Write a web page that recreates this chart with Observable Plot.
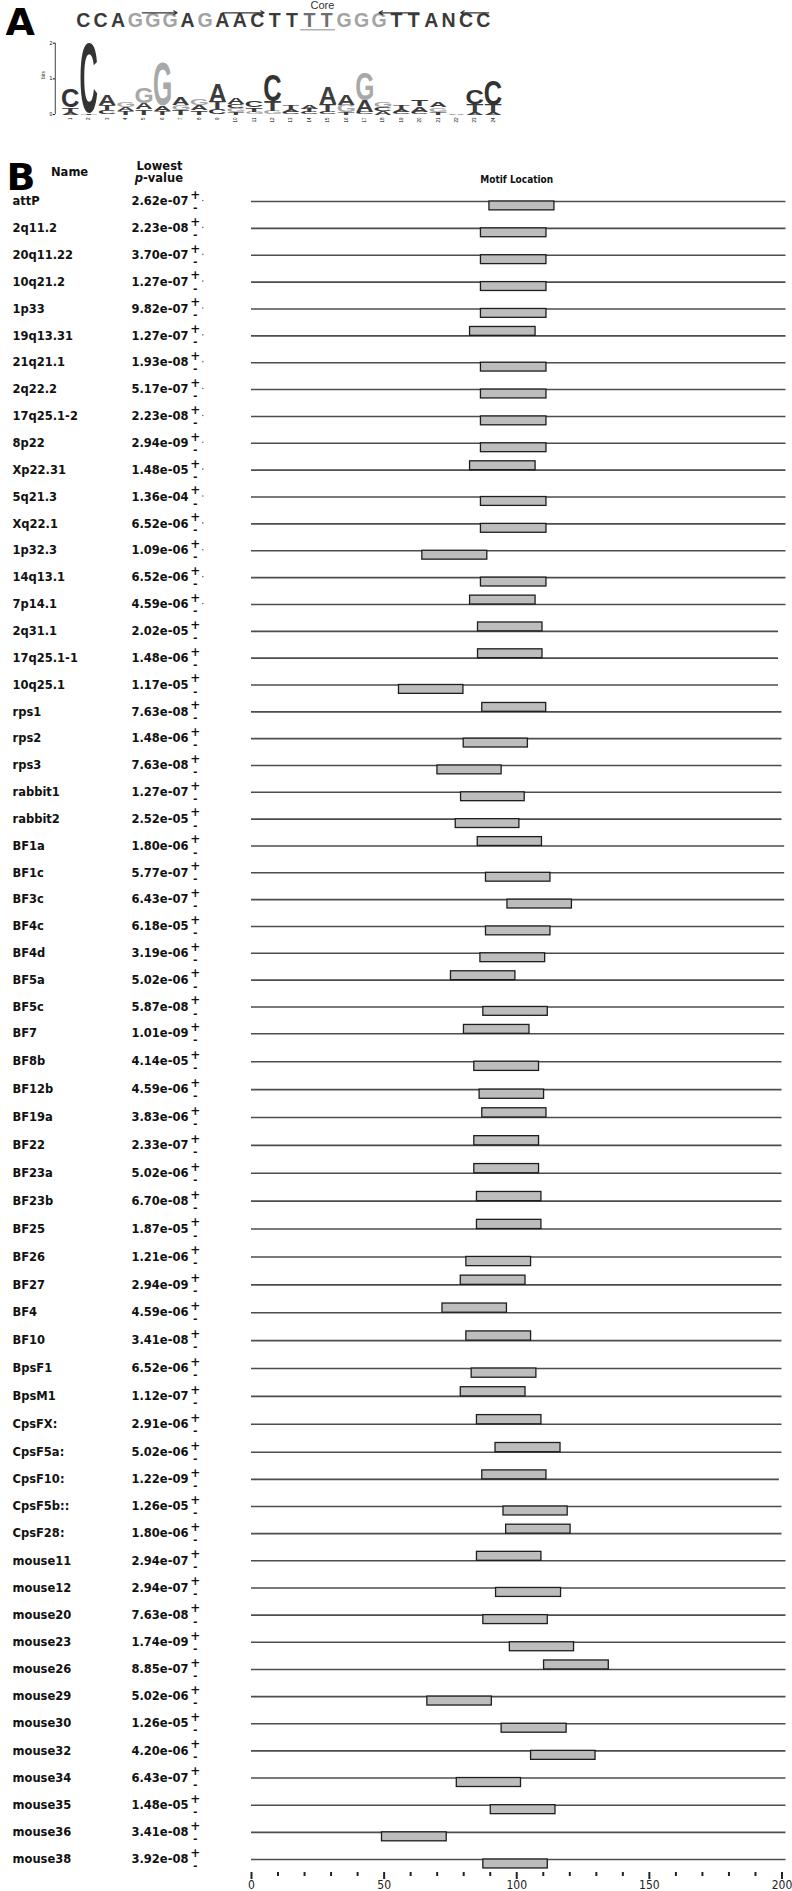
<!DOCTYPE html>
<html>
<head>
<meta charset="utf-8">
<script src="https://cdn.jsdelivr.net/npm/d3@7"></script>
<script src="https://cdn.jsdelivr.net/npm/@observablehq/plot@0.6"></script>
<style>
html, body { margin: 0; padding: 0; background: #fff; }
#page { position: relative; width: 792px; height: 1891px; overflow: hidden; background: #fff; }
#page > svg { position: absolute; left: 0; overflow: visible; }
</style>
</head>
<body>
<div id="page"></div>
<script>
// ---------- Panel A: consensus sequence ----------
const seqLetters = ["C","C","A","G","G","G","A","G","A","A","C","T","T","T","T","G","G","G","T","T","A","N","C","C"];
const seqTone = ["dark","dark","dark","light","light","light","dark","light","dark","dark","dark","dark","dark","core","core","light","light","light","dark","dark","dark","dark","dark","dark"];
const arrowFrom = [4.4, 9.0, 20.3, 24.3];
const arrowTo   = [6.4, 11.4, 18.0, 22.7];
const coreSpan  = [13.5, 15.5];

// ---------- Panel A: sequence logo (stack listed bottom -> top) ----------
const logoPos = [1,1,1, 2,2, 3,3,3, 4,4,4, 5,5,5, 6,6,6, 7,7,7, 8,8,8, 9,9,9, 10,10,10,10, 11,11,11, 12,12,12, 13,13,13, 14,14,14, 15,15,15, 16,16,16, 17,17,17, 18,18,18, 19,19,19, 20,20,20, 21,21,21, 22, 23,23,23, 24,24,24];
const logoLetter = ["A","T","C", "T","C", "C","T","A", "T","A","G", "T","A","G", "T","A","G", "T","G","A", "T","A","G", "C","T","A", "T","G","C","A", "G","T","C", "G","T","C", "C","A","T", "C","T","A", "C","T","A", "T","G","A", "C","A","G", "A","C","G", "C","A","T", "C","A","T", "T","G","A", "A", "A","T","C", "A","T","C"];
const logoBits = [0.07,0.12,0.51, 0.03,1.95, 0.12,0.15,0.30, 0.10,0.12,0.15, 0.15,0.18,0.45, 0.10,0.14,1.23, 0.13,0.15,0.22, 0.12,0.13,0.18, 0.15,0.20,0.51, 0.08,0.10,0.12,0.17, 0.08,0.12,0.17, 0.10,0.28,0.73, 0.07,0.08,0.10, 0.06,0.10,0.12, 0.08,0.22,0.46, 0.07,0.20,0.30, 0.06,0.34,0.79, 0.10,0.12,0.13, 0.07,0.08,0.10, 0.08,0.15,0.17, 0.08,0.12,0.13, 0.03, 0.08,0.20,0.42, 0.07,0.20,0.69];
const logoTicks = [1,2,3,4,5,6,7,8,9,10,11,12,13,14,15,16,17,18,19,20,21,22,23,24];
const bitTicks = [0,1,2];

// ---------- Panel B: motif locations ----------
const names = ["attP","2q11.2","20q11.22","10q21.2","1p33","19q13.31","21q21.1","2q22.2","17q25.1-2","8p22","Xp22.31","5q21.3","Xq22.1","1p32.3","14q13.1","7p14.1","2q31.1","17q25.1-1","10q25.1","rps1","rps2","rps3","rabbit1","rabbit2","BF1a","BF1c","BF3c","BF4c","BF4d","BF5a","BF5c","BF7","BF8b","BF12b","BF19a","BF22","BF23a","BF23b","BF25","BF26","BF27","BF4","BF10","BpsF1","BpsM1","CpsFX:","CpsF5a:","CpsF10:","CpsF5b::","CpsF28:","mouse11","mouse12","mouse20","mouse23","mouse26","mouse29","mouse30","mouse32","mouse34","mouse35","mouse36","mouse38"];
const pValues = ["2.62e-07","2.23e-08","3.70e-07","1.27e-07","9.82e-07","1.27e-07","1.93e-08","5.17e-07","2.23e-08","2.94e-09","1.48e-05","1.36e-04","6.52e-06","1.09e-06","6.52e-06","4.59e-06","2.02e-05","1.48e-06","1.17e-05","7.63e-08","1.48e-06","7.63e-08","1.27e-07","2.52e-05","1.80e-06","5.77e-07","6.43e-07","6.18e-05","3.19e-06","5.02e-06","5.87e-08","1.01e-09","4.14e-05","4.59e-06","3.83e-06","2.33e-07","5.02e-06","6.70e-08","1.87e-05","1.21e-06","2.94e-09","4.59e-06","3.41e-08","6.52e-06","1.12e-07","2.91e-06","5.02e-06","1.22e-09","1.26e-05","1.80e-06","2.94e-07","2.94e-07","7.63e-08","1.74e-09","8.85e-07","5.02e-06","1.26e-05","4.20e-06","6.43e-07","1.48e-05","3.41e-08","3.92e-08"];
const strands = ["-","-","-","-","-","+","-","-","-","-","+","-","-","-","-","+","+","+","-","+","-","-","-","-","+","-","-","-","-","+","-","+","-","-","+","+","+","+","+","-","+","+","+","-","+","+","+","+","-","+","+","-","-","-","+","-","-","-","-","-","-","-"];
const motifStart = [89.7,86.5,86.5,86.5,86.5,82.4,86.5,86.5,86.5,86.5,82.4,86.5,86.5,64.4,86.5,82.4,85.4,85.4,55.6,87.0,80.0,70.1,79.0,77.0,85.3,88.4,96.5,88.4,86.3,75.2,87.4,80.1,84.0,86.0,87.0,84.0,84.0,85.0,85.0,81.0,78.9,72.0,81.0,83.0,78.9,85.0,92.0,87.0,95.0,96.0,85.0,92.2,87.4,97.4,110.3,66.3,94.3,105.4,77.4,90.2,49.2,87.4];
const motifEnd = [114.2,111.2,111.2,111.2,111.2,107.1,111.2,111.2,111.2,111.2,107.1,111.2,111.2,88.9,111.2,107.1,109.7,109.7,79.9,111.1,104.2,94.3,103.0,101.0,109.5,112.7,120.8,112.7,110.7,99.5,111.7,104.8,108.4,110.3,111.2,108.4,108.4,109.3,109.3,105.4,103.3,96.3,105.4,107.4,103.3,109.3,116.5,111.2,119.2,120.3,109.3,116.7,111.7,121.6,134.7,90.6,118.8,129.7,101.6,114.6,73.6,111.7];
const seqLength = [201.5,201.5,201.5,201.5,201.5,201.5,201.5,201.5,201.5,201.5,201.5,201.5,201.5,201.5,201.5,201.5,198.7,198.7,198.7,200,200,200,200,200,201,201,201,201,201,201,201,201,200,200,200,200,200,200,200,200,200,200,200,200,200,200,200,199,200,200,201.5,201.5,201.5,201.5,201.5,201.5,201.5,201.5,201.5,201.5,201.5,201.5];
const dottedRows = 16; // first rows carry a "·" after the strand marks
const majorTicks = [0,50,100,150,200];
const minorTicks = [10,20,30,40,60,70,80,90,110,120,130,140,160,170,180,190];

const page = document.getElementById("page");
function place(svg, top) { svg.style.top = top + "px"; page.appendChild(svg); return svg; }

const SANS = "'Liberation Sans', Arial, sans-serif";
const VERD = "'DejaVu Sans', Verdana, sans-serif";
const NARROW = "'Liberation Sans Narrow', 'DejaVu Sans Condensed', 'Arial Narrow', sans-serif";

// ---------- Sequence plot ----------
const seqData = seqLetters.map((c, i) => ({k: i + 1, c, tone: seqTone[i]}));
const arrows = arrowFrom.map((a, i) => ({a, b: arrowTo[i]}));
const plotS = Plot.plot({
  width: 792, height: 40,
  marginLeft: 74, marginRight: 300.4, marginTop: 0, marginBottom: 0,
  x: {domain: [0.5, 24.5], axis: null},
  y: {type: "linear", domain: [0, 40], range: [0, 40], axis: null},
  color: {domain: ["dark", "light", "core"], range: ["#3a3a3a", "#a3a3a3", "#6e6e6e"]},
  style: {background: "transparent", fontFamily: SANS, overflow: "visible"},
  marks: [
    Plot.text(["A"], {frameAnchor: "left", dx: -69, y: () => 22, text: d => d, textAnchor: "start",
      fontSize: 38, fontWeight: "bold", fill: "#000", fontFamily: VERD}),
    Plot.text(seqData, {x: "k", y: () => 19.8, text: "c", fill: "tone", fontSize: 19.5, fontWeight: "bold"}),
    Plot.text(["Core"], {x: () => 14.75, y: () => 4.5, text: d => d, fontSize: 11, fill: "#333"}),
    Plot.ruleY([29.3], {y: d => d, x1: coreSpan[0], x2: coreSpan[1], stroke: "#b0b0b0", strokeWidth: 1.6}),
    Plot.arrow(arrows, {x1: "a", x2: "b", y1: () => 12.3, y2: () => 12.3, stroke: "#333", strokeWidth: 1.2, headLength: 5})
  ]
});
place(plotS, 0);

// ---------- Logo plot ----------
const logoRows = [];
{
  const acc = {};
  logoPos.forEach((p, i) => {
    const base = acc[p] || 0;
    logoRows.push({pos: p, letter: logoLetter[i], y1: base, y2: base + logoBits[i]});
    acc[p] = base + logoBits[i];
  });
}
const plotL = Plot.plot({
  width: 792, height: 100,
  marginLeft: 60.8, marginRight: 290.1, marginTop: 12.7, marginBottom: 16,
  x: {domain: [0.5, 24.5]},
  y: {domain: [0, 2]},
  color: {domain: ["A", "C", "G", "T"], range: ["#3c3c3c", "#333333", "#a8a8a8", "#3c3c3c"]},
  style: {background: "transparent", fontFamily: SANS, overflow: "visible"},
  marks: [
    Plot.text(logoRows, {x: "pos", y: "y1", text: "letter", fill: "letter", fontSize: 100, fontWeight: "bold"}),
    Plot.ruleX([0.5], {x: d => d, y1: 0, y2: 2, dx: -6, stroke: "#444", strokeWidth: 1}),
    Plot.axisY({ticks: bitTicks, tickFormat: d => String(d), tickSize: 2, dx: -6, fontSize: 5, label: null, tickPadding: 1}),
    Plot.text(["bits"], {frameAnchor: "left", dx: -18, rotate: -90, text: d => d, fontSize: 5, fill: "#333"}),
    Plot.axisX({ticks: logoTicks, tickSize: 0, tickRotate: -90, fontSize: 4.5, label: null, tickPadding: 3})
  ]
});
place(plotL, 30);
{
  const xs = plotL.scale("x"), ys = plotL.scale("y");
  const ctx = document.createElement("canvas").getContext("2d");
  ctx.font = "bold 100px 'Liberation Sans'";
  const texts = plotL.querySelectorAll('g[aria-label="text"] text');
  texts.forEach((t, k) => {
    const d = logoRows[k];
    if (!d) return;
    const m = ctx.measureText(d.letter);
    const L = m.actualBoundingBoxLeft, R = m.actualBoundingBoxRight;
    const A = m.actualBoundingBoxAscent, D = m.actualBoundingBoxDescent;
    const w = 16.8;
    const xc = xs.apply(d.pos);
    const yt = ys.apply(d.y2), yb = ys.apply(d.y1);
    const h = Math.max(0.4, yb - yt);
    const sx = w / (L + R), sy = h / (A + D);
    t.setAttribute("x", 0); t.setAttribute("y", 0); t.setAttribute("dy", 0);
    t.setAttribute("text-anchor", "start");
    t.setAttribute("font-size", "100px");
    t.setAttribute("font-family", "'Liberation Sans'");
    t.setAttribute("transform", `translate(${xc - w / 2},${yt}) scale(${sx},${sy}) translate(${L},${A})`);
  });
}

// ---------- Panel B plot ----------
const B_TOP = 150, B_H = 1741;
const rows = names.map((name, i) => ({i, name, p: pValues[i], strand: strands[i], start: motifStart[i], end: motifEnd[i], len: seqLength[i]}));
const barH = 0.33;
const plotB = Plot.plot({
  width: 792, height: B_H,
  marginLeft: 251, marginRight: 10.5, marginTop: 0, marginBottom: 19,
  x: {domain: [0, 200]},
  y: {type: "linear", domain: [0, 15, 31, 46, 61], range: [51, 454, 883.3, 1301.7, 1709], axis: null},
  style: {background: "transparent", fontFamily: VERD, overflow: "visible"},
  marks: [
    // headers
    Plot.text(["B"], {frameAnchor: "top-left", dx: -245, dy: 27, text: d => d, textAnchor: "start", lineAnchor: "middle", fontSize: 38, fontWeight: "bold", fill: "#000"}),
    Plot.text(["Name"], {frameAnchor: "top-left", dx: -200.5, dy: 22, text: d => d, textAnchor: "start", lineAnchor: "middle", fontSize: 11.5, fontWeight: "bold", fill: "#111"}),
    Plot.text(["Lowest"], {frameAnchor: "top-left", dx: -92, dy: 15.5, text: d => d, textAnchor: "middle", lineAnchor: "middle", fontSize: 11.5, fontWeight: "bold", fill: "#111"}),
    Plot.text(["p"], {frameAnchor: "top-left", dx: -108.5, dy: 28, text: d => d, textAnchor: "end", lineAnchor: "middle", fontSize: 11.5, fontWeight: "bold", fontStyle: "italic", fill: "#111"}),
    Plot.text(["-value"], {frameAnchor: "top-left", dx: -108.5, dy: 28, text: d => d, textAnchor: "start", lineAnchor: "middle", fontSize: 11.5, fontWeight: "bold", fill: "#111"}),
    Plot.text([100], {x: d => d, frameAnchor: "top", dy: 29, text: () => "Motif Location", lineAnchor: "middle", fontSize: 10, fontWeight: "bold", fontFamily: NARROW, fill: "#111"}),
    // sequence lines
    Plot.ruleY(rows, {y: "i", x1: 0, x2: "len", stroke: "#4d4d4d", strokeWidth: 1.6}),
    // motif boxes (+ strand above the line, - strand below)
    Plot.rect(rows, {
      x1: "start", x2: "end",
      y1: d => d.strand === "+" ? d.i - barH : d.i,
      y2: d => d.strand === "+" ? d.i : d.i + barH,
      fill: "#bdbdbd", stroke: "#1e1e1e", strokeWidth: 1.3
    }),
    // names and p-values
    Plot.text(rows, {y: "i", text: "name", frameAnchor: "left", dx: -239, textAnchor: "start", fontSize: 11.5, fontWeight: "bold", fill: "#111"}),
    Plot.text(rows, {y: "i", text: "p", frameAnchor: "left", dx: -120, textAnchor: "start", fontSize: 11.5, fontWeight: "bold", fill: "#111"}),
    Plot.text(rows, {y: "i", text: () => "+", frameAnchor: "left", dx: -56.3, dy: -6.5, textAnchor: "middle", fontSize: 12, fontWeight: "bold", fill: "#111"}),
    Plot.text(rows, {y: "i", text: () => "-", frameAnchor: "left", dx: -56.3, dy: 6, textAnchor: "middle", fontSize: 11, fontWeight: "bold", fill: "#111"}),
    Plot.dot(rows.filter(d => d.i < dottedRows), {y: "i", frameAnchor: "left", dx: -48.7, dy: -1, r: 0.8, fill: "#666", stroke: null}),
    // axis
    Plot.axisX({ticks: minorTicks, tickSize: 4, tickFormat: () => "", strokeWidth: 2, stroke: "#222", label: null}),
    Plot.axisX({ticks: majorTicks, tickSize: 7, tickPadding: 1, strokeWidth: 2, stroke: "#222", fill: "#222", fontSize: 12, fontFamily: NARROW, label: null})
  ]
});
place(plotB, B_TOP);
</script>
</body>
</html>
